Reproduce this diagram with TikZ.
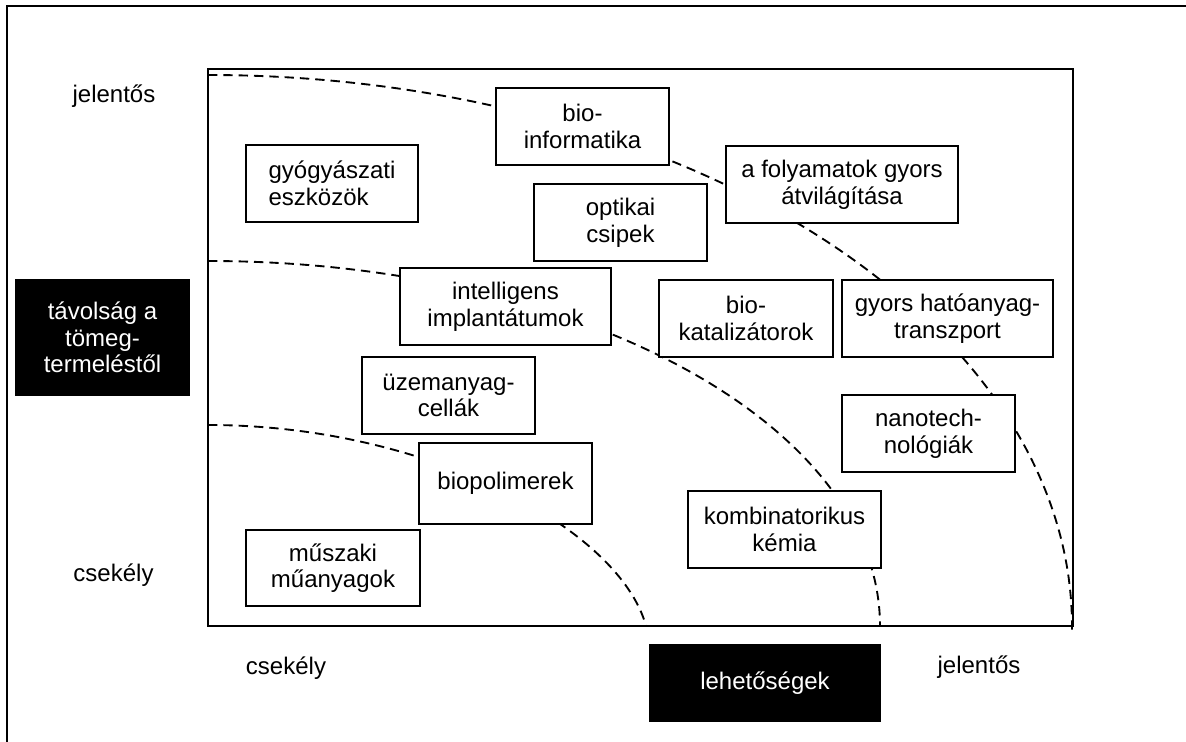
\documentclass[tikz,border=0pt]{standalone}
\usepackage{fontspec}
\setmainfont{Liberation Sans}
\usepackage{tikz}

\begin{document}
\begin{tikzpicture}[x=0.75pt, y=-0.75pt,
        txt/.style={font=\fontsize{18pt}{20pt}\selectfont},
        field/.style={txt, draw, fill=white, line width=1.5pt, inner sep=0pt, align=center,
                      minimum width=130pt, minimum height=57.75pt},
        dark/.style={txt, fill=black, text=white, inner sep=0pt, align=center},
        zone/.style={dashed, line width=1.4pt, dash pattern=on 7pt off 4.5pt}]
        \useasboundingbox (0,0) rectangle (1186,742);

        % outer frame and chart area
        \draw[line width=1.8pt] (7,742) -- (7,6) -- (1186,6);
        \draw[line width=1.6pt] (208,69) rectangle (1073,626);

        % zone borders
        \draw[zone] (208,425) .. controls (430,425) and (620,530) .. (646,626);
        \draw[zone] (208,261) arc[start angle=90, end angle=0, x radius=504pt, y radius=273.75pt];
        \draw[zone] (208,75) arc[start angle=90, end angle=-0.7, x radius=648pt, y radius=413.25pt];

        % fields
        \node[field, minimum width=129pt, align=left] (gyogy) at (332, 183.5) {gyógyászati\\eszközök};
        \node[field] (bioinf) at (582.5, 126.5) {bio-\\informatika};
        \node[field, minimum width=174pt] (folyamat) at (842, 184.5) {a folyamatok gyors\\átvilágítása};
        \node[field] (optikai) at (620.5, 222.5) {optikai\\csipek};
        \node[field, minimum width=158.25pt] (intell) at (505.5, 306.5) {intelligens\\implantátumok};
        \node[field, minimum width=130.5pt] (biokat) at (746, 318.5) {bio-\\katalizátorok};
        \node[field, minimum width=158.25pt] (gyorsh) at (947.5, 318.5) {gyors hatóanyag-\\transzport};
        \node[field] (uzem) at (448.5, 395.5) {üzemanyag-\\cellák};
        \node[field] (nano) at (928.5, 433.5) {nanotech-\\nológiák};
        \node[field, minimum height=60.75pt] (biopol) at (505.5, 483.5) {biopolimerek};
        \node[field, minimum width=144.75pt] (kombi) at (784.5, 529.5) {kombinatorikus\\kémia};
        \node[field, minimum width=130.5pt, minimum height=57pt] (muszaki) at (333, 568) {műszaki\\műanyagok};

        % axes
        \node[dark, minimum width=131.25pt, minimum height=87.75pt] (tav) at (102.5, 337.5) {távolság a\\tömeg-\\termeléstől};
        \node[dark, minimum width=174pt, minimum height=58.5pt] (lehet) at (765, 683) {lehetőségek};
        \node[txt] (ymax) at (114, 96) {jelentős};
        \node[txt] (ymin) at (113.5, 575) {csekély};
        \node[txt] (xmin) at (286, 668) {csekély};
        \node[txt] (xmax) at (979, 667) {jelentős};
    \end{tikzpicture}
\end{document}
